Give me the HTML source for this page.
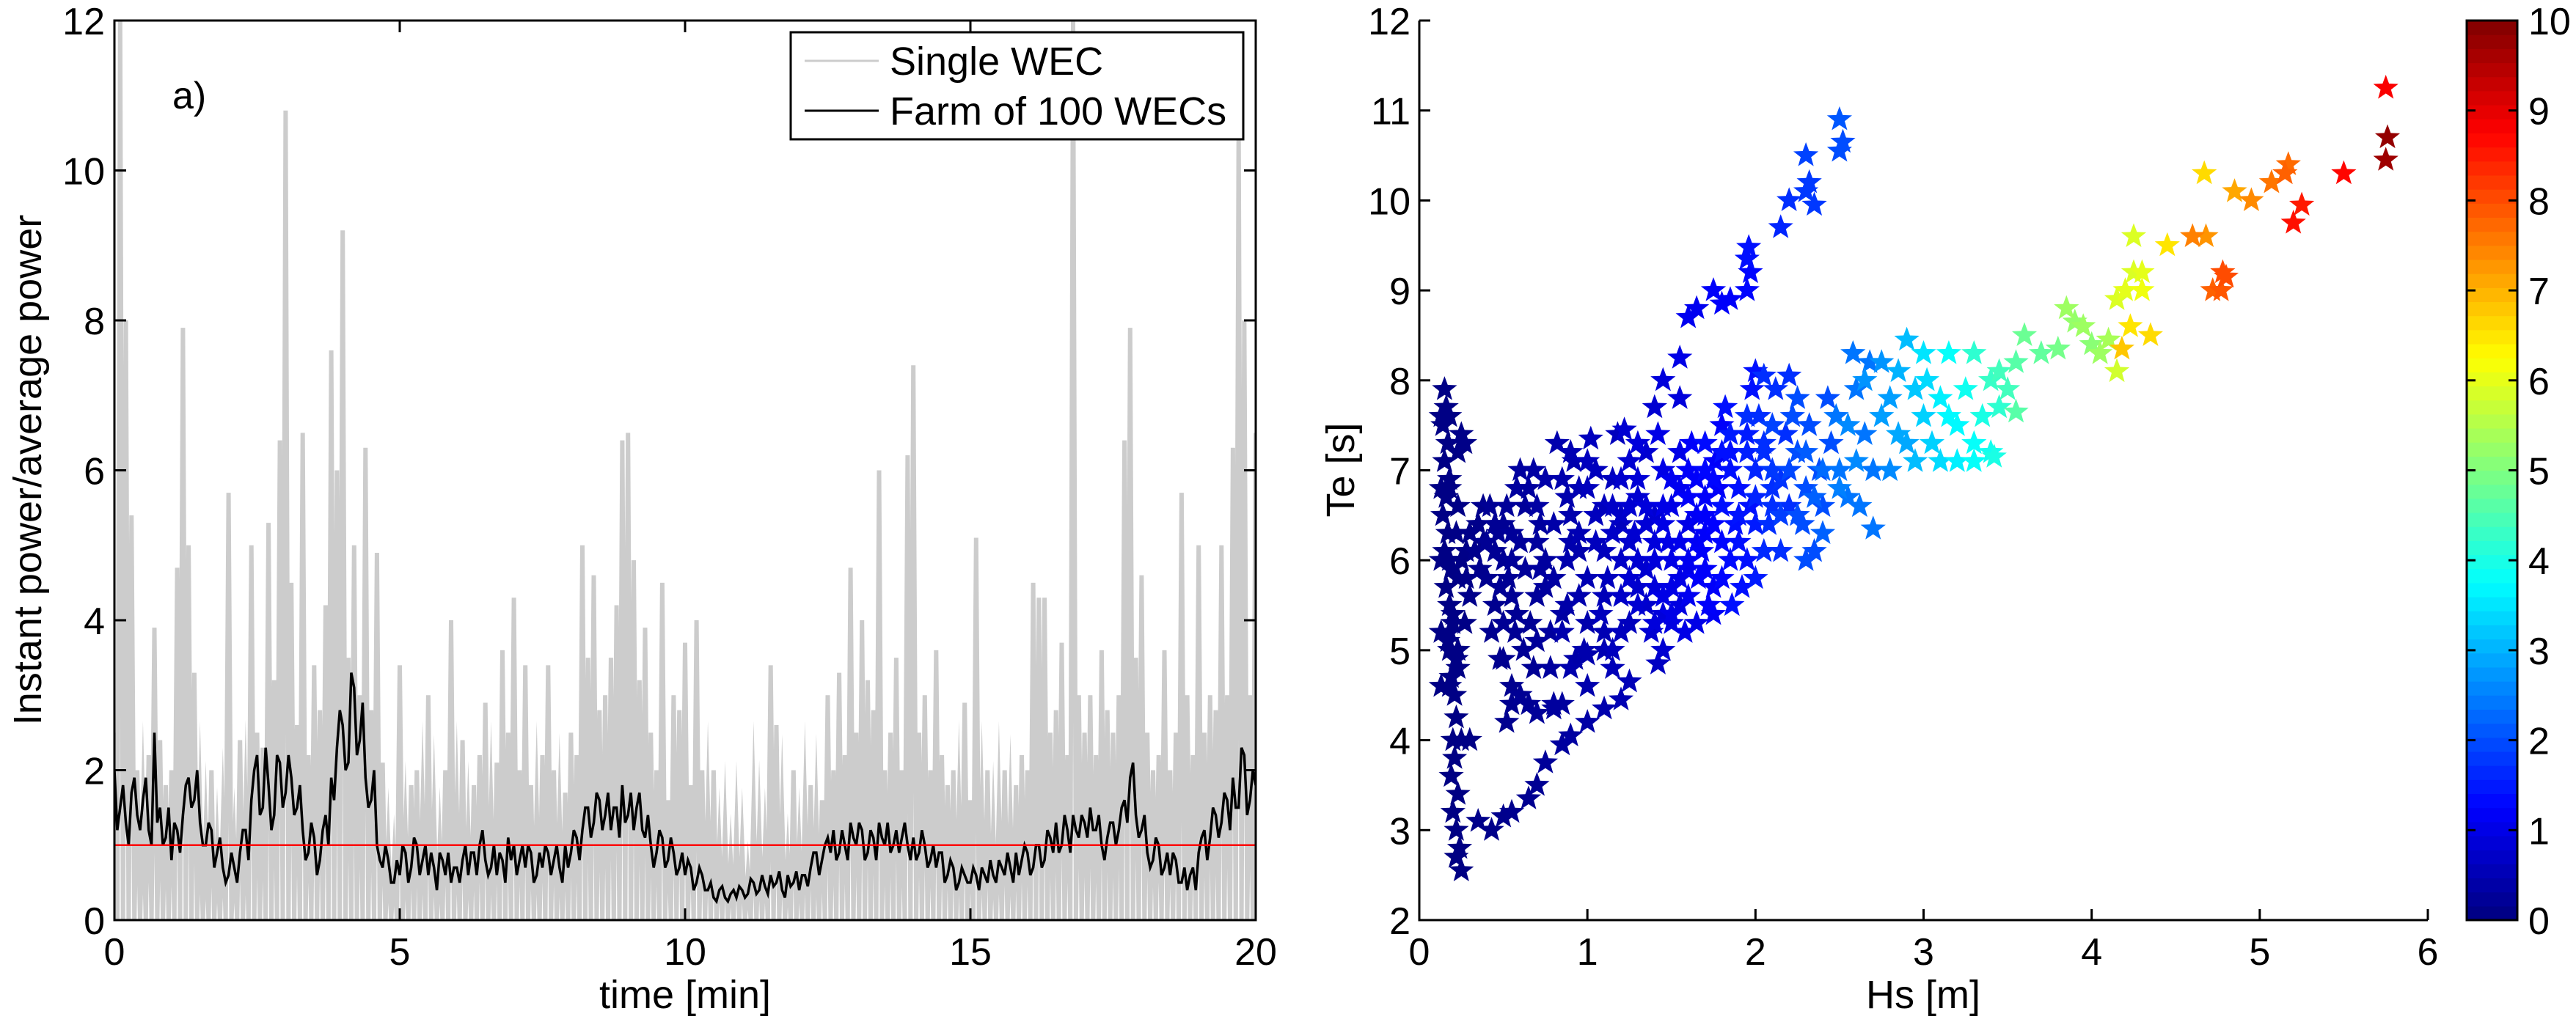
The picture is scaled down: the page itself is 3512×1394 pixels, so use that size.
<!DOCTYPE html>
<html><head><meta charset="utf-8">
<style>
html,body{margin:0;padding:0;background:#fff;}
svg{display:block;font-family:"Liberation Sans",Arial,sans-serif;}
</style></head>
<body>
<svg id="fig" width="3512" height="1394" viewBox="0 0 3512 1394" xmlns="http://www.w3.org/2000/svg">
  <rect x="0" y="0" width="3512" height="1394" fill="#fff"/>
  <g id="left"></g>
  <g id="right"></g>
</svg>
<script>
// ---------- Left panel data ----------
const timeStep = 0.1; // minutes between samples
const singleWec = [
2.5,12,8,5.4,2.0,1.5,2.2,3.9,2.4,1.8,
2.0,4.7,7.9,5.0,3.3,1.5,1.2,2.0,1.0,1.3,
5.7,1.0,2.4,1.5,5.0,2.5,2.3,5.3,3.2,6.4,
10.8,4.5,2.6,6.5,2.2,3.4,2.8,4.2,7.6,6.0,
9.2,3.5,5.0,3.0,6.3,2.8,4.9,2.1,1.0,0.8,
3.4,1.2,1.8,2.0,1.5,3.0,1.4,1.0,2.0,4.0,
1.5,2.4,1.2,1.8,2.2,2.9,1.5,2.1,3.6,2.5,
4.3,2.0,3.4,1.8,1.5,2.2,3.4,2.0,1.4,1.7,
2.5,2.2,5.0,3.5,4.6,2.8,3.0,3.5,4.2,6.4,
6.5,4.8,3.2,3.9,2.5,2.0,4.5,1.6,3.0,2.8,
3.7,1.8,4.0,2.0,1.5,2.0,1.0,1.2,0.8,1.2,
1.0,0.6,1.5,1.2,1.0,3.4,2.6,1.4,0.8,2.0,
1.0,1.5,1.8,1.4,1.6,3.0,2.0,3.3,2.2,4.7,
2.5,4.0,3.2,2.8,6.0,2.0,2.5,3.5,2.0,6.2,
7.4,2.5,3.0,2.0,3.6,2.2,1.8,2.0,1.5,2.9,
1.6,5.1,1.5,2.0,1.2,1.5,2.0,1.4,1.8,2.2,
2.0,4.5,4.3,4.3,2.5,2.8,3.7,2.2,12,3.0,
2.5,3.0,2.2,3.6,2.8,2.5,3.0,6.4,7.9,3.5,
4.6,2.5,2.0,2.2,3.6,2.0,2.5,5.7,3.0,2.2,
5.0,2.5,3.0,2.8,5.0,3.0,6.3,10.5,8.0,3.0,6.5];
const farm = [
2.0,1.5,1.3,1.7,1.4,1.6,1.2,2.5,1.5,1.1,
0.8,1.2,1.4,1.9,1.6,1.3,1.0,1.2,0.9,0.7,
0.6,0.7,0.9,1.2,1.6,2.2,1.5,1.8,1.4,2.1,
1.7,1.9,1.5,1.2,0.9,1.1,0.8,1.4,1.9,2.3,
2.6,2.1,3.1,2.4,1.9,1.6,1.0,0.7,0.8,0.5,
0.6,0.9,0.7,1.0,0.8,0.6,0.7,0.9,0.6,0.5,
0.7,0.8,0.6,0.9,1.0,0.8,0.7,0.6,0.8,1.1,
1.0,0.8,0.7,0.9,0.6,0.7,0.9,0.8,0.7,1.0,
0.9,1.1,1.2,1.5,1.3,1.6,1.4,1.2,1.5,1.8,
1.4,1.2,1.7,1.1,1.0,0.9,1.1,0.8,0.9,0.7,
0.6,0.7,0.5,0.6,0.4,0.3,0.4,0.3,0.35,0.3,
0.4,0.35,0.5,0.4,0.45,0.6,0.5,0.4,0.6,0.5,
0.4,0.6,0.7,0.9,0.8,1.1,1.2,0.9,1.0,1.3,
1.0,1.2,0.9,1.1,1.3,1.0,0.9,1.2,1.1,1.0,
1.1,0.9,1.0,0.8,0.7,0.9,0.6,0.7,0.5,0.6,
0.5,0.6,0.7,0.5,0.6,0.8,0.6,0.7,0.9,0.8,
0.9,0.7,1.0,0.8,1.1,1.3,1.0,1.2,1.4,1.1,
1.3,1.5,1.2,1.0,1.1,1.3,1.2,1.6,1.9,1.4,
1.2,0.9,0.8,1.0,0.7,0.6,0.8,0.5,0.4,0.7,
0.9,1.2,1.1,1.4,1.3,1.6,1.9,1.5,2.2,1.6,1.8];
// farm values halfway between the samples above
const farmHalf = [
1.2,1.8,1.0,1.9,1.2,1.9,1.0,1.3,1.0,1.5,
1.3,0.9,1.8,1.5,2.0,1.0,1.3,0.7,1.1,0.5,
0.9,0.5,1.2,0.8,2.0,1.4,2.3,1.2,2.2,1.5,
2.2,1.4,1.8,0.8,1.3,0.6,1.2,1.0,1.6,2.8,
2.0,3.3,2.2,2.9,1.5,2.0,0.8,1.0,0.5,0.8,
1.0,0.5,1.1,0.6,1.0,0.9,0.4,0.8,0.9,0.7,
0.5,1.0,0.9,0.6,1.2,0.6,1.0,0.9,0.5,0.8,
0.6,1.0,1.0,0.5,0.9,1.0,0.6,1.0,0.5,0.7,
1.2,0.8,1.5,1.1,1.7,1.2,1.7,1.5,1.1,1.3,
1.7,1.5,1.2,1.4,0.7,1.2,0.7,1.1,0.6,0.9,
0.8,0.4,0.7,0.4,0.5,0.25,0.45,0.25,0.4,0.45,
0.3,0.55,0.35,0.6,0.35,0.45,0.65,0.3,0.45,0.65,
0.6,0.45,0.9,0.6,1.0,0.9,0.8,1.2,0.8,1.1,
1.3,0.8,1.2,0.8,1.1,1.3,1.0,0.9,1.3,0.8,
0.8,1.2,0.7,1.0,0.9,0.5,0.8,0.4,0.7,0.5,
0.7,0.4,0.6,0.8,0.5,0.7,0.9,0.5,0.6,1.0,
0.6,1.0,0.7,1.2,0.9,0.9,1.4,0.9,1.2,1.4,
1.1,1.2,1.4,0.8,1.3,1.0,1.5,1.3,2.1,1.1,
1.4,0.7,1.1,0.6,0.9,0.9,0.5,0.7,0.6,0.4,
1.1,0.8,1.5,1.1,1.7,1.2,1.5,2.3,1.4,2.0];
const avgLevel = 1;
const leftXTicks = [0,5,10,15,20];
const leftYTicks = [0,2,4,6,8,10,12];

// ---------- Right panel data ----------
const hs = [
0.15,0.16,0.14,0.17,0.15,0.18,0.16,0.14,0.17,0.15,
0.19,0.16,0.18,0.20,0.17,0.22,0.19,0.21,0.18,0.20,
0.22,0.20,0.21,0.19,0.23,0.20,0.22,0.24,0.22,0.25,
0.25,0.27,0.22,0.25,0.30,0.35,0.38,0.27,0.25,0.30,
0.45,0.50,0.48,0.55,0.52,0.58,0.60,0.55,0.50,0.45,
0.50,0.55,0.52,0.55,0.60,0.65,0.68,0.62,0.66,0.70,
0.42,0.47,0.60,0.63,0.40,0.57,0.70,0.75,0.78,0.80,
0.35,0.43,0.50,0.55,0.65,0.70,0.75,0.85,0.90,1.00,1.10,1.20,1.25,1.42,
1.45,1.55,1.55,1.40,1.60,1.65,1.75,1.80,1.85,1.95,
1.95,1.96,1.97,2.15,2.20,2.30,2.30,2.32,2.35,2.50,
2.50,2.52,
0.82,0.85,0.90,0.88,0.95,0.85,0.90,1.00,0.98,0.92,
1.02,1.05,1.10,1.05,1.12,1.08,1.15,1.18,1.15,1.20,
1.22,1.25,1.30,1.28,1.35,1.30,1.38,1.25,1.40,1.35,
1.42,1.45,1.50,1.48,1.55,1.50,1.58,1.45,1.60,1.55,
1.62,1.65,1.70,1.68,1.75,1.72,1.78,1.80,1.66,1.76,
1.82,1.85,1.90,1.88,1.95,1.92,1.98,2.00,1.86,1.97,
2.02,2.05,2.10,2.08,2.15,2.12,2.18,2.20,2.05,2.20,
2.22,2.25,2.30,2.28,2.35,2.32,2.38,2.40,2.43,2.45,
2.48,2.50,2.55,2.58,2.60,2.65,2.62,2.70,2.68,2.70,
1.30,1.40,1.50,1.60,1.70,1.80,1.90,2.00,2.10,2.00,
1.60,1.70,1.80,1.50,1.40,1.20,1.10,1.00,1.00,1.10,
0.90,0.75,0.70,0.80,0.85,0.80,0.70,1.00,1.10,1.25,
0.90,0.95,1.05,1.15,1.20,1.25,1.30,1.35,1.40,1.45,
1.50,1.55,1.60,1.65,1.70,1.75,1.80,1.85,1.90,1.95,
2.00,2.05,2.10,2.15,2.20,2.25,2.30,2.35,2.40,2.50,
1.20,1.30,1.45,1.60,1.70,1.85,1.95,2.10,1.10,1.20,
1.35,1.45,1.55,1.65,1.00,0.95,0.88,0.75,0.72,0.68,
2.60,2.55,2.75,2.65,2.85,2.40,2.30,2.00,1.75,1.15,
2.75,2.80,2.85,2.90,2.95,3.00,3.02,3.05,3.10,3.10,
3.15,3.20,3.25,3.30,3.30,3.35,3.40,3.40,3.45,3.50,
2.80,2.90,3.00,3.20,3.30,3.42,3.55,3.45,3.15,2.95,
3.55,3.60,3.70,3.80,3.85,3.90,3.95,4.00,4.05,4.10,
4.15,4.20,4.15,4.18,4.25,4.25,4.23,4.30,4.30,4.35,
4.45,4.60,4.68,4.67,4.85,4.95,5.07,5.15,5.17,5.20,
5.25,4.72,4.77,4.78,4.80,5.50,5.75,5.76,5.75,
0.13,0.18,0.23,0.13,0.18,0.23,0.13,0.18,0.23,0.13,
0.18,0.23,0.13,0.18,0.23,0.28,0.28,0.30,0.33,0.36,
0.40,0.45,0.50,0.55,0.43,0.48,0.53,0.58,0.63,0.38,
0.65,0.72,0.80,0.88,0.95,0.70,0.78,0.85,0.93,1.00,
1.05,1.15,1.25,1.35,1.45,1.55,1.65,1.75,1.85,1.95,
1.40,1.50,1.60,1.70,1.80,1.30,1.20,2.05,2.15,2.25];
const te = [
7.9,7.7,7.5,7.3,7.1,6.9,6.7,6.5,6.3,6.1,
5.9,5.7,5.5,5.3,5.1,4.9,4.7,4.5,5.0,5.4,
4.25,4.0,3.8,3.6,3.4,3.2,3.0,2.8,2.7,2.55,
7.4,7.3,6.3,6.0,6.3,6.4,6.6,5.3,4.0,4.0,
6.1,6.0,5.7,6.3,6.6,6.8,7.0,5.6,5.3,5.5,
4.9,4.6,4.2,4.4,4.5,4.4,4.8,5.0,5.3,5.6,
6.6,6.3,6.2,5.9,5.8,5.2,6.2,6.0,5.2,4.4,
3.1,3.0,3.15,3.2,3.35,3.5,3.75,3.95,4.05,4.2,4.35,4.45,4.65,4.85,
8.0,8.25,7.8,7.7,8.7,8.8,9.0,8.85,8.9,9.0,
9.35,9.48,9.2,9.7,10.0,10.5,10.1,10.2,9.95,10.9,
10.55,10.65,
7.3,6.9,6.5,6.0,5.6,5.2,4.8,4.6,5.0,7.1,
7.35,7.0,6.6,6.2,5.8,5.4,5.0,7.4,6.9,6.4,
7.45,7.1,6.7,6.3,5.9,5.5,5.2,5.8,6.5,7.2,
7.4,7.0,6.6,6.2,5.8,5.4,5.2,5.6,6.4,7.2,
7.3,6.9,6.5,6.1,5.7,5.5,6.8,7.5,5.8,7.1,
7.7,7.2,6.8,6.4,6.0,5.7,7.9,8.1,5.5,6.6,
7.6,7.2,6.8,6.4,6.1,7.9,7.4,6.6,8.05,8.05,
7.6,7.2,6.8,6.4,6.1,7.5,7.0,6.6,7.8,7.3,
7.6,7.0,6.7,8.3,7.9,7.4,6.6,6.35,8.2,7.0,
6.0,5.7,6.0,6.0,6.3,6.2,6.2,6.4,6.6,7.0,
6.7,7.0,6.6,6.9,6.2,6.0,6.1,5.8,6.8,5.2,
7.2,6.9,6.6,6.4,4.4,4.35,4.3,4.95,5.0,5.3,
6.2,6.8,6.5,6.3,5.6,6.6,6.9,6.4,6.0,5.4,
5.7,6.2,5.6,6.5,5.9,6.4,5.8,6.0,6.5,7.2,
6.7,6.1,7.0,6.5,7.0,6.5,7.2,6.7,7.0,6.8,
6.9,7.3,6.6,7.0,7.3,7.4,7.6,7.5,5.6,5.2,
5.5,5.0,5.5,5.3,7.1,6.1,5.5,5.7,6.4,7.0,
7.1,7.5,7.6,8.0,8.1,6.3,6.0,5.8,5.4,4.8,
8.2,7.8,7.4,8.45,7.1,7.6,8.0,7.3,7.1,7.8,
8.3,7.5,7.9,8.3,7.3,7.6,8.0,7.2,7.7,7.9,
7.0,7.3,8.3,7.1,7.1,7.15,7.65,8.1,7.6,7.9,
8.2,8.5,8.3,8.35,8.8,8.65,8.6,8.4,8.3,8.45,
8.9,9.0,8.1,8.35,9.6,9.2,8.6,9.2,9.0,8.5,
9.5,9.6,9.6,10.3,10.1,10.0,10.2,10.3,10.4,9.75,
9.95,9.0,9.0,9.2,9.15,10.3,11.25,10.7,10.45,
7.6,7.6,7.2,6.8,6.8,6.6,6.0,6.0,5.8,5.2,
5.2,5.0,4.6,4.6,4.8,6.1,5.8,5.6,6.1,5.9,
6.2,6.4,6.4,6.0,5.2,4.9,5.8,5.4,6.6,6.2,
6.8,5.9,5.8,6.7,6.3,5.1,4.8,5.4,4.9,5.3,
6.5,6.6,6.2,6.6,6.4,6.8,6.2,6.9,7.0,7.4,
5.3,5.3,5.9,6.7,7.2,5.7,6.5,7.3,6.9,7.8];
const pw = [
0.05,0.05,0.05,0.05,0.05,0.05,0.05,0.05,0.05,0.05,
0.05,0.05,0.05,0.05,0.05,0.05,0.05,0.05,0.05,0.05,
0.04,0.04,0.04,0.03,0.03,0.03,0.03,0.03,0.03,0.03,
0.08,0.08,0.06,0.06,0.08,0.1,0.12,0.06,0.05,0.05,
0.2,0.2,0.2,0.25,0.25,0.3,0.3,0.2,0.2,0.15,
0.15,0.15,0.15,0.15,0.2,0.2,0.2,0.2,0.2,0.25,
0.2,0.2,0.25,0.25,0.15,0.2,0.3,0.3,0.3,0.3,
0.1,0.1,0.12,0.14,0.17,0.2,0.25,0.3,0.33,0.38,0.45,0.5,0.55,0.65,
0.9,1.0,0.9,0.8,1.1,1.1,1.2,1.2,1.2,1.3,
1.4,1.4,1.3,1.6,1.7,1.9,1.8,1.8,1.8,2.1,
2.0,2.0,
0.45,0.45,0.45,0.45,0.45,0.45,0.45,0.45,0.45,0.45,
0.6,0.6,0.6,0.6,0.6,0.6,0.6,0.6,0.6,0.6,
0.8,0.8,0.8,0.8,0.8,0.8,0.8,0.8,0.8,0.8,
1.0,1.0,1.0,1.0,1.0,1.0,1.0,1.0,1.0,1.0,
1.2,1.2,1.2,1.2,1.2,1.2,1.2,1.2,1.2,1.2,
1.4,1.4,1.4,1.4,1.4,1.4,1.4,1.4,1.4,1.4,
1.7,1.7,1.7,1.7,1.7,1.7,1.7,1.7,1.7,1.7,
2.0,2.0,2.0,2.0,2.0,2.0,2.0,2.0,2.0,2.0,
2.4,2.4,2.4,2.4,2.4,2.4,2.4,2.4,2.4,2.4,
0.8,0.9,1.0,1.1,1.2,1.3,1.4,1.5,1.7,1.6,
1.2,1.3,1.4,1.1,0.9,0.7,0.6,0.5,0.6,0.5,
0.5,0.4,0.35,0.4,0.3,0.3,0.25,0.45,0.5,0.6,
0.45,0.5,0.6,0.7,0.7,0.8,0.85,0.85,0.9,0.9,
1.0,1.05,1.1,1.15,1.2,1.25,1.3,1.35,1.45,1.55,
1.6,1.65,1.8,1.85,1.95,2.0,2.15,2.2,2.3,2.5,
0.75,0.9,1.0,1.2,1.35,1.5,1.7,1.9,0.55,0.6,
0.75,0.8,0.95,1.0,0.6,0.45,0.4,0.3,0.3,0.35,
2.6,2.6,2.8,2.7,3.0,2.2,2.0,1.5,1.15,0.55,
2.7,2.8,2.9,3.1,3.1,3.3,3.4,3.3,3.4,3.6,
3.8,3.7,3.9,4.2,3.8,4.0,4.3,3.9,4.2,4.4,
2.6,2.9,3.5,3.6,3.8,4.0,4.6,4.4,3.7,3.2,
4.6,4.8,4.7,4.9,5.3,5.2,5.3,5.1,5.3,5.4,
5.9,6.0,5.8,6.8,5.9,5.9,6.5,6.0,6.1,6.6,
6.5,7.5,7.3,6.6,7.1,7.4,7.6,7.8,7.7,8.6,
8.5,7.8,7.9,8.0,8.0,8.7,8.8,9.8,9.7,
0.05,0.05,0.05,0.05,0.05,0.05,0.05,0.05,0.05,0.05,
0.05,0.05,0.05,0.05,0.05,0.08,0.08,0.1,0.12,0.14,
0.2,0.2,0.2,0.25,0.15,0.15,0.2,0.2,0.25,0.12,
0.3,0.3,0.35,0.45,0.5,0.25,0.3,0.35,0.4,0.45,
0.6,0.7,0.75,0.9,1.0,1.1,1.15,1.3,1.4,1.5,
0.9,0.95,1.05,1.2,1.4,0.75,0.7,1.7,1.75,2.0];
const rightXTicks = [0,1,2,3,4,5,6];
const rightYTicks = [2,3,4,5,6,7,8,9,10,11,12];
const cbTicks = [0,1,2,3,4,5,6,7,8,9,10];

// ---------- helpers ----------
const NS = 'http://www.w3.org/2000/svg';
function mk(tag, attrs, parent){
  const e = document.createElementNS(NS, tag);
  for (const k in attrs) e.setAttribute(k, attrs[k]);
  parent.appendChild(e);
  return e;
}
function jet(v){
  const c = x => Math.max(0, Math.min(1, x));
  const r = c(1.5 - Math.abs(4*v - 3)), g = c(1.5 - Math.abs(4*v - 2)), b = c(1.5 - Math.abs(4*v - 1));
  return 'rgb(' + Math.round(r*255) + ',' + Math.round(g*255) + ',' + Math.round(b*255) + ')';
}
const FS = 52;

// ---------- Left panel ----------
const L = document.getElementById('left');
const lx0 = 156, lx1 = 1712, ly0 = 1255, ly1 = 28;
const lxs = t => lx0 + (t - 0) / 20 * (lx1 - lx0);
const lys = v => ly0 - (v - 0) / 12 * (ly0 - ly1);

const clipL = mk('clipPath', {id:'clipL'}, L);
mk('rect', {x:lx0, y:ly1, width:lx1-lx0, height:ly0-ly1}, clipL);
const plotL = mk('g', {'clip-path':'url(#clipL)'}, L);



let pts = [];
for (let i = 0; i < singleWec.length; i++) {
  const t = i * timeStep;
  pts.push(lxs(t).toFixed(1) + ',' + lys(singleWec[i]).toFixed(1));
  if (i < singleWec.length - 1) pts.push(lxs(t + timeStep/2).toFixed(1) + ',' + lys(0).toFixed(1));
}
const gl = mk('polyline', {points: pts.join(' '), fill:'none', stroke:'#cccccc', 'stroke-width':6, 'stroke-linejoin':'miter', 'stroke-miterlimit':40}, plotL);



pts = [];
for (let i = 0; i < farm.length; i++) {
  pts.push(lxs(i*timeStep).toFixed(1) + ',' + lys(farm[i]).toFixed(1));
  if (i < farmHalf.length) pts.push(lxs(i*timeStep + timeStep/2).toFixed(1) + ',' + lys(farmHalf[i]).toFixed(1));
}
const bl = mk('polyline', {points: pts.join(' '), fill:'none', stroke:'#000', 'stroke-width':3.5}, plotL);



const rl = mk('line', {x1:lx0, x2:lx1, y1:lys(avgLevel), y2:lys(avgLevel), stroke:'#ff0000', 'stroke-width':2.5}, plotL);



const boxL = mk('rect', {x:lx0, y:ly1, width:lx1-lx0, height:ly0-ly1, fill:'none', stroke:'#000', 'stroke-width':3}, L);



leftXTicks.forEach(t => {
  const x = lxs(t);
  const a = mk('line', {x1:x, x2:x, y1:ly0, y2:ly0-16, stroke:'#000', 'stroke-width':3}, L);
  
  
  mk('line', {x1:x, x2:x, y1:ly1, y2:ly1+16, stroke:'#000', 'stroke-width':3}, L);
  const tx = mk('text', {x:x, y:1316, 'font-size':FS, 'text-anchor':'middle'}, L);
  tx.textContent = t;
  
  
});
leftYTicks.forEach(v => {
  const y = lys(v);
  const a = mk('line', {x1:lx0, x2:lx0+16, y1:y, y2:y, stroke:'#000', 'stroke-width':3}, L);
  
  
  mk('line', {x1:lx1, x2:lx1-16, y1:y, y2:y, stroke:'#000', 'stroke-width':3}, L);
  const tx = mk('text', {x:143, y:y+19, 'font-size':FS, 'text-anchor':'end'}, L);
  tx.textContent = v;
  
  
});
</script>
<script>
(function(){
  const L = document.getElementById('left');
  const NS = 'http://www.w3.org/2000/svg';
  function t(x, y, s, name, extra){
    const e = document.createElementNS(NS, 'text');
    e.setAttribute('x', x); e.setAttribute('y', y);
    e.setAttribute('font-size', 54);
    for (const k in (extra||{})) e.setAttribute(k, extra[k]);
    e.textContent = s;
    
    
    L.appendChild(e); return e;
  }
  t(934, 1375, 'time [min]', 'x-axis-title', {'text-anchor':'middle'});
  t(56, 641, 'Instant power/average power', 'y-axis-title', {'text-anchor':'middle', transform:'rotate(-90 56 641)'});
  t(235, 148, 'a)', 'panel-label', {'font-size':52});
  const lg = document.createElementNS(NS, 'g');
  
  
  L.appendChild(lg);
  lg.innerHTML = '<rect x="1078" y="44" width="617" height="146" fill="#fff" stroke="#000" stroke-width="3"/>' +
    '<line x1="1097" x2="1198" y1="83" y2="83" stroke="#cccccc" stroke-width="3"/>' +
    '<line x1="1097" x2="1198" y1="151" y2="151" stroke="#000" stroke-width="3"/>';
  const e1 = document.createElementNS(NS, 'text');
  e1.setAttribute('x', 1213); e1.setAttribute('y', 102); e1.setAttribute('font-size', 54);
  e1.textContent = 'Single WEC';
  
  
  lg.appendChild(e1);
  const e2 = document.createElementNS(NS, 'text');
  e2.setAttribute('x', 1213); e2.setAttribute('y', 170); e2.setAttribute('font-size', 54);
  e2.textContent = 'Farm of 100 WECs';
  
  
  lg.appendChild(e2);
})();

// ---------- Right panel ----------
(function(){
  const R = document.getElementById('right');
  const rx0 = 1935, rx1 = 3310, ry0 = 1255, ry1 = 28;
  const rxs = h => rx0 + (h - 0) / 6 * (rx1 - rx0);
  const rys = v => ry0 - (v - 2) / 10 * (ry0 - ry1);
  const cmax = 10;

  const sg = mk('g', {}, R);
  
  
  const ro = 18, ri = 7.5;
  const order = hs.map((_, i) => i).sort((a, b) => pw[a] - pw[b]);
  order.forEach(i => {
    const cx = rxs(hs[i]), cy = rys(te[i]);
    const p = [];
    for (let k = 0; k < 10; k++) {
      const ang = -Math.PI/2 + k * Math.PI/5;
      const r = k % 2 === 0 ? ro : ri;
      p.push((cx + r*Math.cos(ang)).toFixed(1) + ',' + (cy + r*Math.sin(ang)).toFixed(1));
    }
    const s = mk('polygon', {points: p.join(' '), fill: jet(Math.min(1, pw[i]/cmax))}, sg);
    
    
  });

  const ax = mk('path', {d:'M'+rx0+' '+ry1+' L'+rx0+' '+ry0+' L'+rx1+' '+ry0, fill:'none', stroke:'#000', 'stroke-width':3}, R);
  
  

  rightXTicks.forEach(h => {
    const x = rxs(h);
    const a = mk('line', {x1:x, x2:x, y1:ry0, y2:ry0-15, stroke:'#000', 'stroke-width':3}, R);
    
    
    const tx = mk('text', {x:x, y:1316, 'font-size':FS, 'text-anchor':'middle'}, R);
    tx.textContent = h;
    
    
  });
  rightYTicks.forEach(v => {
    const y = rys(v);
    const a = mk('line', {x1:rx0, x2:rx0+15, y1:y, y2:y, stroke:'#000', 'stroke-width':3}, R);
    
    
    const tx = mk('text', {x:1923, y:y+19, 'font-size':FS, 'text-anchor':'end'}, R);
    tx.textContent = v;
    
    
  });
  const xt = mk('text', {x:2622, y:1375, 'font-size':54, 'text-anchor':'middle'}, R);
  xt.textContent = 'Hs [m]';
  
  
  const yt = mk('text', {x:1846, y:641, 'font-size':54, 'text-anchor':'middle', transform:'rotate(-90 1846 641)'}, R);
  yt.textContent = 'Te [s]';
  
  

  const cb = mk('g', {}, R);
  
  
  const cx0 = 3363, cx1 = 3432;
  const cys = v => ry0 - v / cmax * (ry0 - ry1);
  const n = 64;
  for (let k = 0; k < n; k++) {
    const yTop = ry0 - (k+1)/n * (ry0 - ry1), h = (ry0 - ry1)/n;
    mk('rect', {x:cx0, y:yTop.toFixed(2), width:cx1-cx0, height:(h+0.6).toFixed(2), fill: jet((k+0.5)/n)}, cb);
  }
  mk('rect', {x:cx0, y:ry1, width:cx1-cx0, height:ry0-ry1, fill:'none', stroke:'#000', 'stroke-width':3}, cb);
  cbTicks.forEach(v => {
    const y = cys(v);
    if (v > 0 && v < cmax) {
      mk('line', {x1:cx0, x2:cx0+12, y1:y, y2:y, stroke:'#000', 'stroke-width':3}, cb);
      mk('line', {x1:cx1, x2:cx1-12, y1:y, y2:y, stroke:'#000', 'stroke-width':3}, cb);
    }
    const tx = mk('text', {x:3447, y:y+19, 'font-size':FS}, cb);
    tx.textContent = v;
    
    
  });
})();
</script>
</body></html>
